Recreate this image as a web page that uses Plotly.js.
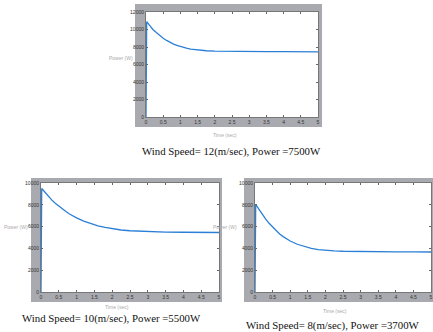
<!DOCTYPE html>
<html>
<head>
<meta charset="utf-8">
<script src="https://cdn.plot.ly/plotly-3.0.1.min.js"></script>
<style>html,body{margin:0;padding:0;background:#fff;}#chart{width:433px;height:332px;}</style>
</head>
<body>
<div id="chart"></div>
<script>
// ---- data ----
const time12 = [0, 0.005, 0.02, 0.1, 0.2, 0.3, 0.4, 0.5, 0.6, 0.7, 0.8, 0.9, 1.0, 1.1, 1.2, 1.3, 1.4, 1.5, 1.75, 2.0, 2.5, 3.0, 3.5, 4.0, 4.5, 5.0];
const power12 = [0, 6000, 10900, 10500, 10000, 9650, 9300, 9000, 8750, 8520, 8330, 8180, 8050, 7930, 7840, 7760, 7700, 7650, 7570, 7530, 7490, 7470, 7460, 7460, 7460, 7450];

const time10 = [0, 0.005, 0.02, 0.1, 0.2, 0.3, 0.4, 0.5, 0.6, 0.7, 0.8, 0.9, 1.0, 1.2, 1.4, 1.6, 1.8, 2.0, 2.25, 2.5, 3.0, 3.5, 4.0, 4.5, 5.0];
const power10 = [0, 5000, 9500, 9200, 8800, 8450, 8150, 7870, 7600, 7380, 7160, 6970, 6800, 6500, 6260, 6070, 5920, 5800, 5690, 5620, 5540, 5500, 5480, 5470, 5460];

const time8 = [0, 0.005, 0.02, 0.1, 0.2, 0.3, 0.4, 0.5, 0.6, 0.7, 0.8, 0.9, 1.0, 1.2, 1.4, 1.6, 1.8, 2.0, 2.25, 2.5, 3.0, 3.5, 4.0, 4.5, 5.0];
const power8 = [0, 4000, 8050, 7650, 7150, 6700, 6300, 5950, 5620, 5330, 5080, 4860, 4680, 4380, 4160, 4000, 3890, 3820, 3770, 3740, 3700, 3690, 3680, 3680, 3670];

const xTickVals = [0, 0.5, 1, 1.5, 2, 2.5, 3, 3.5, 4, 4.5, 5];
const xTickText = ["0", "0.5", "1", "1.5", "2", "2.5", "3", "3.5", "4", "4.5", "5"];
const yTicksTop = [0, 2000, 4000, 6000, 8000, 10000, 12000];
const yTicksTopText = ["0", "2000", "4000", "6000", "8000", "10000", "12000"];
const yTicksBottom = [0, 2000, 4000, 6000, 8000, 10000];
const yTicksBottomText = ["0", "2000", "4000", "6000", "8000", "10000"];

const captions = [
  "Wind Speed= 12(m/sec), Power =7500W",
  "Wind Speed= 10(m/sec), Power =5500W",
  "Wind Speed= 8(m/sec), Power =3700W"
];
const xLabel = "Time (sec)";
const yLabel = "Power (W)";

// ---- layout helpers ----
const W = 433, H = 332;
const px = x => x / W;
const py = y => 1 - y / H;

const lineColor = "#2b7fd6";
const frameGray = "#a9aaaf";

function trace(x, y, xa, ya) {
  return {x: x, y: y, type: "scatter", mode: "lines", xaxis: xa, yaxis: ya,
          line: {color: lineColor, width: 1.3}, hoverinfo: "skip", showlegend: false};
}

function xAxis(dom, anchor) {
  return {domain: dom, anchor: anchor, range: [0, 5], tickvals: xTickVals, ticktext: xTickText,
          ticks: "inside", ticklen: 2, tickcolor: "#666", showline: true, linecolor: "#777", linewidth: 1,
          mirror: "ticks", showgrid: false, zeroline: false,
          tickfont: {family: "Liberation Sans", size: 5, color: "#333"}};
}
function yAxis(dom, anchor, maxv, tv, tt) {
  return {domain: dom, anchor: anchor, range: [0, maxv], tickvals: tv, ticktext: tt,
          ticks: "inside", ticklen: 2, tickcolor: "#666", showline: true, linecolor: "#777", linewidth: 1,
          mirror: "ticks", showgrid: false, zeroline: false,
          tickfont: {family: "Liberation Sans", size: 5, color: "#333"}};
}

const data = [
  trace(time12, power12, "x", "y"),
  trace(time10, power10, "x2", "y2"),
  trace(time8, power8, "x3", "y3")
];

function rect(x0, y0, x1, y1, color) {
  return {type: "rect", xref: "paper", yref: "paper", x0: px(x0), x1: px(x1), y0: py(y1), y1: py(y0),
          fillcolor: color, line: {width: 0}, layer: "below"};
}

function ann(text, x, y, size, color, family) {
  return {text: text, xref: "paper", yref: "paper", x: px(x), y: py(y), xanchor: "center", yanchor: "middle",
          showarrow: false, font: {family: family || "Liberation Sans", size: size, color: color}};
}

const layout = {
  width: W, height: H,
  margin: {l: 0, r: 0, t: 0, b: 0},
  paper_bgcolor: "#ffffff",
  plot_bgcolor: "#ffffff",
  showlegend: false,
  xaxis: xAxis([px(146), px(318)], "y"),
  yaxis: yAxis([py(117), py(12)], "x", 12000, yTicksTop, yTicksTopText),
  xaxis2: xAxis([px(41), px(219)], "y2"),
  yaxis2: yAxis([py(292), py(183)], "x2", 10000, yTicksBottom, yTicksBottomText),
  xaxis3: xAxis([px(255), px(431)], "y3"),
  yaxis3: yAxis([py(292), py(183)], "x3", 10000, yTicksBottom, yTicksBottomText),
  shapes: [
    rect(135, 4, 322, 127, frameGray),
    rect(31, 178, 222, 302, frameGray),
    rect(244, 178, 433, 302, frameGray),
    rect(146, 12, 318, 117, "#ffffff"),
    rect(41, 183, 219, 292, "#ffffff"),
    rect(255, 183, 431, 292, "#ffffff")
  ],
  annotations: [
    ann(captions[0], 231, 152, 10.8, "#111", "Liberation Serif"),
    ann(captions[1], 111, 318, 10.8, "#111", "Liberation Serif"),
    ann(captions[2], 333, 325, 10.8, "#111", "Liberation Serif"),
    ann(xLabel, 225, 135, 5, "#aaa"),
    ann(xLabel, 117, 307, 5, "#aaa"),
    ann(xLabel, 335, 311, 5, "#aaa"),
    ann(yLabel, 121, 58, 5, "#aaa"),
    ann(yLabel, 16, 227, 5, "#aaa"),
    ann(yLabel, 225, 227, 5, "#aaa")
  ]
};

Plotly.newPlot("chart", data, layout, {displayModeBar: false, staticPlot: true});
</script>
</body>
</html>
